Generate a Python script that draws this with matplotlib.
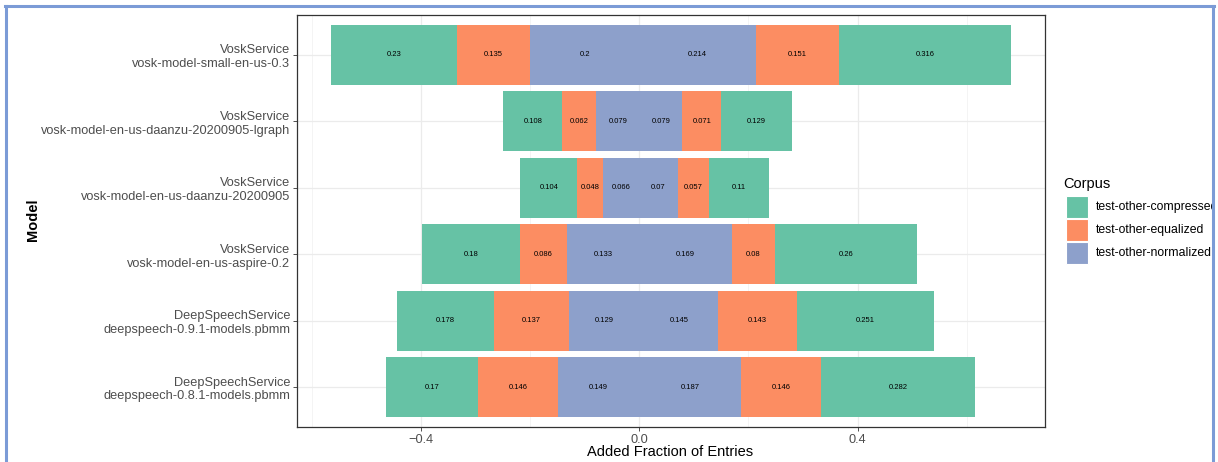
import matplotlib
matplotlib.use("Agg")
import matplotlib.pyplot as plt
import numpy as np
from matplotlib.patches import Rectangle
from matplotlib.lines import Line2D

plt.rcParams['font.family'] = ['Liberation Sans', 'DejaVu Sans']

models = [
    "VoskService\nvosk-model-small-en-us-0.3",
    "VoskService\nvosk-model-en-us-daanzu-20200905-lgraph",
    "VoskService\nvosk-model-en-us-daanzu-20200905",
    "VoskService\nvosk-model-en-us-aspire-0.2",
    "DeepSpeechService\ndeepspeech-0.9.1-models.pbmm",
    "DeepSpeechService\ndeepspeech-0.8.1-models.pbmm",
]
corpora = ["test-other-compressed", "test-other-equalized", "test-other-normalized"]
colors = ["#66C2A5", "#FC8D62", "#8DA0CB"]

# negative side (drawn left of zero), per corpus
neg_compressed = [0.23, 0.108, 0.104, 0.18, 0.178, 0.17]
neg_equalized = [0.135, 0.062, 0.048, 0.086, 0.137, 0.146]
neg_normalized = [0.2, 0.079, 0.066, 0.133, 0.129, 0.149]
# positive side (drawn right of zero), per corpus
pos_compressed = [0.316, 0.129, 0.11, 0.26, 0.251, 0.282]
pos_equalized = [0.151, 0.071, 0.057, 0.08, 0.143, 0.146]
pos_normalized = [0.214, 0.079, 0.07, 0.169, 0.145, 0.187]

fig = plt.figure(figsize=(12.18, 4.62), dpi=100)
ax = fig.add_axes([297/1218, 1-427/462, (1045-297)/1218, (427-15)/462])

n = len(models)
ypos = np.arange(n, 0, -1)
h = 0.9

neg = {0: neg_compressed, 1: neg_equalized, 2: neg_normalized}
pos = {0: pos_compressed, 1: pos_equalized, 2: pos_normalized}

# left side: stack from zero outward normalized -> equalized -> compressed
left_edge = np.zeros(n)
for ci in [2, 1, 0]:
    vals = np.array(neg[ci])
    starts = left_edge - vals
    ax.barh(ypos, vals, left=starts, height=h, color=colors[ci],
            edgecolor="none", zorder=2)
    for y, s, v in zip(ypos, starts, vals):
        ax.text(s + v/2, y, f"{v:g}", ha="center", va="center", fontsize=5.5,
                color="black", zorder=3)
    left_edge = starts

# right side: same order outward from zero
right_edge = np.zeros(n)
for ci in [2, 1, 0]:
    vals = np.array(pos[ci])
    ax.barh(ypos, vals, left=right_edge, height=h, color=colors[ci],
            edgecolor="none", zorder=2)
    for y, s, v in zip(ypos, right_edge, vals):
        ax.text(s + v/2, y, f"{v:g}", ha="center", va="center", fontsize=5.5,
                color="black", zorder=3)
    right_edge = right_edge + vals

lo = -max(np.array(neg_compressed) + np.array(neg_equalized) + np.array(neg_normalized))
hi = max(np.array(pos_compressed) + np.array(pos_equalized) + np.array(pos_normalized))
pad = (hi - lo) * 0.05
ax.set_xlim(lo - pad, hi + pad)
ax.set_ylim(0.4, n + 0.6)

ax.set_xticks([-0.4, 0.0, 0.4])
ax.set_xticklabels(["\u22120.4", "0.0", "0.4"])
ax.set_xticks([-0.6, -0.2, 0.2, 0.6], minor=True)
ax.set_yticks(ypos)
ax.set_yticklabels(models)
ax.grid(True, which="major", color="#EBEBEB", linewidth=0.9, zorder=0)
ax.grid(True, which="minor", axis="x", color="#F2F2F2", linewidth=0.6, zorder=0)
ax.set_axisbelow(True)
ax.tick_params(axis="both", which="major", labelsize=9.2, colors="#333333",
               labelcolor="#4D4D4D", length=3, width=0.6, pad=2)
ax.tick_params(axis="x", which="minor", length=0)
for sp in ax.spines.values():
    sp.set_color("#333333")
    sp.set_linewidth(0.9)

fig.text(670/1218, 1-452/462, "Added Fraction of Entries", ha="center", va="center",
         fontsize=10.5)
fig.text(33/1218, 1-220/462, "Model", rotation=90, ha="center", va="center",
         fontsize=10.5, fontweight="bold")

# legend
fig.text(1063/1218, 1-184/462, "Corpus", ha="left", va="center", fontsize=10.5)
for i, (lab, c) in enumerate(zip(corpora, colors)):
    y0 = 196 + i * 23
    fig.patches.append(Rectangle((1066/1218, 1-(y0+22)/462), 22/1218, 22/462,
                                 transform=fig.transFigure, facecolor=c,
                                 edgecolor="white", linewidth=0.8))
    fig.text(1096/1218, 1-(y0+11)/462, lab, ha="left", va="center", fontsize=8.8)

# outer frame
fig.patches.append(Rectangle((1213/1218, 0), 5/1218, 1, transform=fig.transFigure,
                             facecolor="white", edgecolor="none", zorder=20))
frame_c = "#7B9BD6"
fig.lines.append(Line2D([6/1218, 6/1218], [0, 1-6/462], transform=fig.transFigure,
                        color=frame_c, linewidth=2.2, zorder=21))
fig.lines.append(Line2D([1213/1218, 1213/1218], [0, 1-6/462], transform=fig.transFigure,
                        color=frame_c, linewidth=2.2, zorder=21))
fig.lines.append(Line2D([5/1218, 1214/1218], [1-6/462, 1-6/462], transform=fig.transFigure,
                        color=frame_c, linewidth=2.2, zorder=21))

fig.savefig("out.png", dpi=100)
